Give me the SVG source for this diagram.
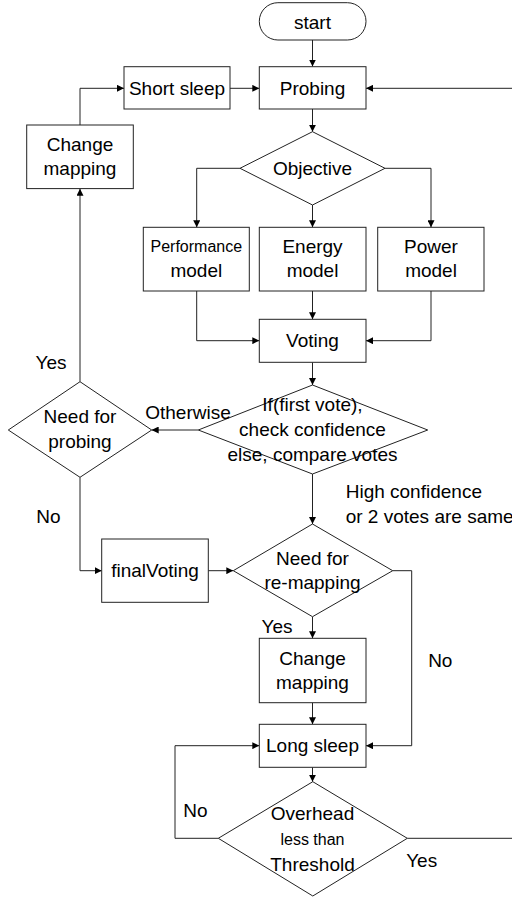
<svg xmlns="http://www.w3.org/2000/svg" width="512" height="899" viewBox="0 0 512 899">
<defs>
<marker id="ah" viewBox="0 0 10 10" refX="10" refY="5" markerWidth="7" markerHeight="7" markerUnits="userSpaceOnUse" orient="auto">
<path d="M0,0 L10,5 L0,10 z" fill="#000"/>
</marker>
<style>
.n{fill:#fff;stroke:#222;stroke-width:1}
.c{fill:none;stroke:#222;stroke-width:1;marker-end:url(#ah)}
.l{fill:none;stroke:#222;stroke-width:1}
text{font-family:"Liberation Sans",Arial,sans-serif;font-size:19px;fill:#000;text-anchor:middle}
.s{font-size:16px}
.lt{text-anchor:start}
</style>
</defs>
<rect width="512" height="899" fill="#fff"/>
<g id="connectors">
<path class="c" d="M312.5,40 V66.5"/>
<path class="c" d="M230,88.3 H259.3"/>
<path class="c" d="M512,88.3 H366"/>
<path class="c" d="M80,125 V88.3 H124"/>
<path class="c" d="M312.5,109 V131.7"/>
<path class="c" d="M240,168.3 H196.7 V227.3"/>
<path class="c" d="M312.5,205 V227.3"/>
<path class="c" d="M385,168.3 H431 V227.3"/>
<path class="c" d="M196.7,291 V340.7 H259.3"/>
<path class="c" d="M312.5,291 V319.3"/>
<path class="c" d="M431,291 V340.7 H366"/>
<path class="c" d="M312.5,362.3 V385"/>
<path class="c" d="M198.3,430 H151.7"/>
<path class="c" d="M80,381.7 V188.7"/>
<path class="c" d="M80,477.3 V570.7 H101.7"/>
<path class="c" d="M312.5,474 V524"/>
<path class="c" d="M208.3,570.7 H233.3"/>
<path class="c" d="M312.5,616.7 V638.3"/>
<path class="c" d="M392.7,570.7 H411.7 V745.7 H366"/>
<path class="c" d="M312.5,702.7 V724.3"/>
<path class="c" d="M312.5,767.3 V781.7"/>
<path class="c" d="M218.3,838.3 H175 V745.7 H259.3"/>
<path class="l" d="M407.3,838.3 H512"/>
</g>
<g id="start">
<rect class="n" x="259.3" y="2.7" width="106.7" height="37.3" rx="18.6"/>
<text x="312.5" y="29">start</text>
</g>
<g id="probing">
<rect class="n" x="259.3" y="66.7" width="106.7" height="42.3"/>
<text x="312.5" y="95">Probing</text>
</g>
<g id="short-sleep">
<rect class="n" x="124" y="66.7" width="106" height="42.3"/>
<text x="177" y="95">Short sleep</text>
</g>
<g id="change-mapping-1">
<rect class="n" x="26.7" y="125" width="106.6" height="63.6"/>
<text x="80" y="150.7">Change</text>
<text x="80" y="175">mapping</text>
</g>
<g id="objective">
<polygon class="n" points="312.5,131.7 385,168.3 312.5,205 240,168.3"/>
<text x="312.5" y="175">Objective</text>
</g>
<g id="performance-model">
<rect class="n" x="143.3" y="227.3" width="106" height="63.7"/>
<text class="s" x="196.3" y="252.3">Performance</text>
<text x="196.3" y="276.5">model</text>
</g>
<g id="energy-model">
<rect class="n" x="259.3" y="227.3" width="106.7" height="63.7"/>
<text x="312.5" y="253">Energy</text>
<text x="312.5" y="277">model</text>
</g>
<g id="power-model">
<rect class="n" x="377.7" y="227.3" width="106.3" height="63.7"/>
<text x="431" y="253">Power</text>
<text x="431" y="277">model</text>
</g>
<g id="voting">
<rect class="n" x="259.3" y="319.3" width="106.7" height="43"/>
<text x="312.5" y="347.3">Voting</text>
</g>
<g id="check-confidence">
<polygon class="n" points="312.5,385 427.7,430 312.5,474 198.3,430"/>
<text x="312.5" y="410.7">If(first vote),</text>
<text x="312.5" y="435.7">check confidence</text>
<text x="312.5" y="461">else, compare votes</text>
</g>
<g id="need-for-probing">
<polygon class="n" points="80,381.7 151.7,430 80,477.3 8.3,430"/>
<text x="80" y="423.3">Need for</text>
<text x="80" y="448.3">probing</text>
</g>
<g id="final-voting">
<rect class="n" x="101.7" y="539" width="106.6" height="63.3"/>
<text x="155" y="577.3">finalVoting</text>
</g>
<g id="need-for-remapping">
<polygon class="n" points="312.5,524 392.7,570.7 312.5,616.7 233.3,570.7"/>
<text x="312.5" y="565">Need for</text>
<text x="312.5" y="589.3">re-mapping</text>
</g>
<g id="change-mapping-2">
<rect class="n" x="259.3" y="638.3" width="106.7" height="64.4"/>
<text x="312.5" y="665">Change</text>
<text x="312.5" y="689.3">mapping</text>
</g>
<g id="long-sleep">
<rect class="n" x="259.3" y="724.3" width="106.7" height="43"/>
<text x="312.5" y="752.3">Long sleep</text>
</g>
<g id="overhead">
<polygon class="n" points="312.8,781.7 407.3,838.3 312.8,896 218.3,838.3"/>
<text x="312.5" y="820">Overhead</text>
<text class="s" x="312.5" y="845">less than</text>
<text x="312.5" y="871">Threshold</text>
</g>
<g id="labels">
<text x="51" y="369.3">Yes</text>
<text x="188" y="419.3">Otherwise</text>
<text class="lt" x="345.7" y="498.3">High confidence</text>
<text class="lt" x="345.7" y="522.7">or 2 votes are same</text>
<text x="48.5" y="522.7">No</text>
<text x="277" y="632.7">Yes</text>
<text x="440.3" y="666.7">No</text>
<text x="195.5" y="817.3">No</text>
<text x="421.7" y="866.7">Yes</text>
</g>
</svg>
